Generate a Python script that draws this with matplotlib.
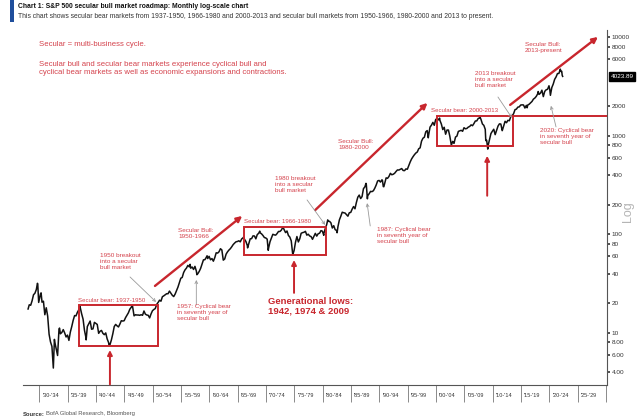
import matplotlib
matplotlib.use("Agg")
import matplotlib.pyplot as plt
import numpy as np
from matplotlib.patches import Rectangle
from matplotlib.ticker import NullLocator, FixedLocator, FixedFormatter, NullFormatter
from matplotlib.transforms import blended_transform_factory

plt.rcParams['font.family'] = ['Liberation Sans Narrow', 'Liberation Sans', 'DejaVu Sans']

# ---------------- data ----------------
start_year = 1928
# S&P 500 quarter-end levels, 1928Q1 .. 2022Q1
spx_quarterly = [
    19.3, 19.1, 21.2, 24.4,     # 1928
    25.3, 27.6, 31.3, 21.5,     # 1929
    25.1, 20.5, 21.0, 15.3,     # 1930
    18.0, 14.8, 9.7, 8.1,       # 1931
    7.3, 4.4, 8.1, 6.9,         # 1932
    5.9, 10.9, 9.8, 10.1,       # 1933
    10.8, 10.0, 9.1, 9.5,       # 1934
    8.4, 10.2, 11.6, 13.4,      # 1935
    15.0, 14.9, 16.2, 17.2,     # 1936
    18.1, 15.6, 13.8, 10.6,     # 1937
    9.0, 11.6, 12.4, 13.2,      # 1938
    10.9, 11.0, 12.8, 12.5,     # 1939
    12.2, 9.9, 10.4, 10.6,      # 1940
    9.9, 9.6, 10.0, 8.7,        # 1941
    8.0, 7.6, 8.5, 9.8,         # 1942
    11.6, 12.2, 11.8, 11.5,     # 1943
    12.3, 13.3, 13.2, 13.3,     # 1944
    14.3, 15.1, 16.0, 17.4,     # 1945
    18.2, 18.4, 14.9, 15.3,     # 1946
    15.2, 15.2, 15.1, 15.3,     # 1947
    15.1, 16.7, 15.5, 15.2,     # 1948
    15.1, 14.2, 15.6, 16.8,     # 1949
    17.3, 17.7, 19.5, 20.4,     # 1950
    21.5, 21.0, 23.3, 23.8,     # 1951
    24.4, 25.0, 25.0, 26.6,     # 1952
    25.3, 24.1, 23.4, 24.8,     # 1953
    26.9, 29.2, 32.3, 35.9,     # 1954
    36.6, 41.0, 43.7, 45.5,     # 1955
    48.5, 46.9, 45.4, 46.7,     # 1956
    44.1, 47.4, 42.4, 39.9,     # 1957
    42.1, 45.2, 50.1, 55.2,     # 1958
    55.4, 58.5, 56.9, 59.9,     # 1959
    55.3, 56.9, 53.5, 58.1,     # 1960
    65.1, 64.6, 66.7, 71.6,     # 1961
    69.6, 54.8, 56.3, 63.1,     # 1962
    66.6, 69.4, 71.7, 75.0,     # 1963
    78.9, 81.7, 84.2, 84.8,     # 1964
    86.2, 84.1, 90.0, 92.4,     # 1965
    89.2, 84.7, 77.0, 80.3,     # 1966
    90.2, 90.6, 96.7, 96.5,     # 1967
    90.2, 99.6, 102.7, 103.9,   # 1968
    101.5, 97.7, 93.1, 92.1,    # 1969
    89.6, 72.7, 84.3, 92.2,     # 1970
    100.3, 99.0, 98.3, 102.1,   # 1971
    107.2, 107.1, 110.6, 118.1, # 1972
    111.5, 104.3, 108.4, 97.6,  # 1973
    94.0, 86.0, 63.5, 68.6,     # 1974
    83.4, 95.2, 83.9, 90.2,     # 1975
    102.8, 104.3, 105.2, 107.5, # 1976
    98.4, 100.5, 96.5, 95.1,    # 1977
    89.2, 95.5, 102.5, 96.1,    # 1978
    101.6, 102.9, 109.3, 107.9, # 1979
    102.1, 114.2, 125.5, 135.8, # 1980
    136.0, 131.2, 116.2, 122.6, # 1981
    111.9, 109.6, 120.4, 140.6, # 1982
    153.0, 168.1, 166.1, 164.9, # 1983
    159.2, 153.2, 166.1, 167.2, # 1984
    180.7, 191.9, 182.1, 211.3, # 1985
    238.9, 250.8, 231.3, 242.2, # 1986
    291.7, 304.0, 321.8, 247.1, # 1987
    258.9, 273.5, 271.9, 277.7, # 1988
    294.9, 317.9, 349.2, 353.4, # 1989
    339.9, 358.0, 306.1, 330.2, # 1990
    375.2, 371.2, 387.9, 417.1, # 1991
    403.7, 408.1, 417.8, 435.7, # 1992
    451.7, 450.5, 458.9, 466.5, # 1993
    445.8, 444.3, 462.7, 459.3, # 1994
    500.7, 544.8, 584.4, 615.9, # 1995
    645.5, 670.6, 687.3, 740.7, # 1996
    757.1, 885.1, 947.3, 970.4, # 1997
    1101.8, 1133.8, 1017.0, 1229.2,  # 1998
    1286.4, 1372.7, 1282.7, 1469.3,  # 1999
    1498.6, 1454.6, 1436.5, 1320.3,  # 2000
    1160.3, 1224.4, 1040.9, 1148.1,  # 2001
    1147.4, 989.8, 815.3, 879.8,     # 2002
    848.2, 974.5, 996.0, 1111.9,     # 2003
    1126.2, 1140.8, 1114.6, 1211.9,  # 2004
    1180.6, 1191.3, 1228.8, 1248.3,  # 2005
    1294.8, 1270.2, 1335.9, 1418.3,  # 2006
    1420.9, 1503.4, 1526.8, 1468.4,  # 2007
    1322.7, 1280.0, 1166.4, 903.3,   # 2008
    797.9, 919.3, 1057.1, 1115.1,    # 2009
    1169.4, 1030.7, 1141.2, 1257.6,  # 2010
    1325.8, 1320.6, 1131.4, 1257.6,  # 2011
    1408.5, 1362.2, 1440.7, 1426.2,  # 2012
    1569.2, 1606.3, 1681.6, 1848.4,  # 2013
    1872.3, 1960.2, 1972.3, 2058.9,  # 2014
    2067.9, 2063.1, 1920.0, 2043.9,  # 2015
    2059.7, 2098.9, 2168.3, 2238.8,  # 2016
    2362.7, 2423.4, 2519.4, 2673.6,  # 2017
    2640.9, 2718.4, 2914.0, 2506.9,  # 2018
    2834.4, 2941.8, 2976.7, 3230.8,  # 2019
    2584.6, 3100.3, 3363.0, 3756.1,  # 2020
    3972.9, 4297.5, 4307.5, 4766.2,  # 2021
    4530.4,                          # 2022Q1
]
# intra-quarter peaks and troughs (decimal year, level)
extreme_years = [1928.0, 1929.65, 1929.87, 1930.3, 1932.65, 1933.55, 1937.15, 1938.25,
                 1942.3, 1946.4, 1956.6, 1957.8, 1959.6, 1966.05, 1966.75, 1968.9,
                 1970.4, 1973.0, 1974.75, 1980.2, 1980.9, 1982.55, 1987.65, 1987.9,
                 1990.55, 1990.8, 1998.65, 2000.65, 2002.75, 2003.2, 2007.8, 2008.8,
                 2009.15, 2011.7, 2016.1, 2018.05, 2020.1, 2022.05, 2022.29, 2022.37]
extreme_values = [17.5, 31.9, 20.4, 25.5, 8.6, 11.2, 18.6, 8.5,
                  7.5, 19.2, 49.7, 39.0, 60.7, 94.0, 73.0, 108.0,
                  69.0, 119.0, 63.0, 98.0, 140.5, 104.0, 330.0, 230.0,
                  356.0, 305.0, 957.0, 1517.0, 815.0, 841.0, 1549.0, 896.0,
                  735.0, 1131.0, 1932.0, 2824.0, 2954.0, 4516.0, 4132.0, 4023.89]
last_value = 4023.89

y_ticks = [10000, 8000, 6000, 2000, 1000, 800, 600, 400, 200, 100, 80, 60, 40, 20, 10, 8, 6, 4]
y_tick_labels = ['10000', '8000', '6000', '2000', '1000', '800', '600', '400', '200',
                 '100', '80', '60', '40', '20', '10', '8.00', '6.00', '4.00']
period_edges = list(range(1930, 2035, 5))
period_labels = ["'30-'34", "'35-'39", "'40-'44", "'45-'49", "'50-'54", "'55-'59", "'60-'64",
                 "'65-'69", "'70-'74", "'75-'79", "'80-'84", "'85-'89", "'90-'94", "'95-'99",
                 "'00-'04", "'05-'09", "'10-'14", "'15-'19", "'20-'24", "'25-'29"]

# ---------------- build series ----------------
q_years = np.array([start_year + i // 4 + ((i % 4) * 3 + 2.5) / 12 for i in range(len(spx_quarterly))])
t = np.concatenate([q_years, np.array(extreme_years)])
v = np.concatenate([np.array(spx_quarterly), np.array(extreme_values)])
order = np.argsort(t)
t, v = t[order], v[order]

RED = '#c8262d'
RED_TXT = '#d4424c'
GRAY = '#9a9a9a'

fig = plt.figure(figsize=(6.4, 4.18), dpi=100)
W, H = 640, 418
def fx(px): return px / W
def fy(py): return 1 - py / H

ax = fig.add_axes([22.7 / W, 1 - 385 / H, (607 - 22.7) / W, (385 - 30) / H])
ax.set_yscale('log')
ax.set_xlim(1927.05, 2030.2)
ax.set_ylim(2.96, 11900)

ax.plot(t, v, color='#111111', lw=1.1, zorder=3)

for s in ['top', 'left']:
    ax.spines[s].set_visible(False)
ax.spines['bottom'].set_color('#555555')
ax.spines['right'].set_color('#555555')
ax.spines['bottom'].set_linewidth(0.8)
ax.spines['right'].set_linewidth(0.8)

ax.yaxis.tick_right()
ax.yaxis.set_major_locator(FixedLocator(y_ticks))
ax.yaxis.set_major_formatter(FixedFormatter(y_tick_labels))
ax.yaxis.set_minor_locator(NullLocator())
ax.yaxis.set_minor_formatter(NullFormatter())
ax.tick_params(axis='y', which='major', direction='out', length=2.5, width=1.2,
               labelsize=4.6, pad=1, colors='#333333')

ax.xaxis.set_major_locator(FixedLocator(period_edges))
ax.xaxis.set_major_formatter(NullFormatter())
ax.xaxis.set_minor_locator(FixedLocator([e + 2.0 for e in period_edges[:-1]]))
ax.xaxis.set_minor_formatter(FixedFormatter(period_labels))
ax.tick_params(axis='x', which='major', direction='out', length=12, width=0.6, color='#777777')
ax.tick_params(axis='x', which='minor', length=0, labelsize=4.0, pad=6, labelcolor='#333333')

# ---------------- boxes ----------------
boxes = [(1937.0, 1950.9, 7.4, 19.0), (1966.1, 1980.6, 61.5, 120.0), (2000.2, 2013.6, 785.0, 1590.0)]
for x0, x1, y0, y1 in boxes:
    ax.add_patch(Rectangle((x0, y0), x1 - x0, y1 - y0, fill=False, ec=RED, lw=1.4, zorder=4))
ax.hlines(1590.0, 2013.6, 2030.2, color=RED, lw=1.4, zorder=4)

# ---------------- red trend arrows ----------------
trend_arrows = [((1950.4, 30.0), (1965.8, 154.0)),
                ((1978.7, 177.0), (1998.5, 2163.0)),
                ((2013.1, 2066.0), (2028.6, 10120.0))]
for tail, head in trend_arrows:
    ax.annotate('', xy=head, xytext=tail,
                arrowprops=dict(arrowstyle='-|>', color=RED, lw=1.7, mutation_scale=8,
                                shrinkA=0, shrinkB=0), zorder=5)

# generational low arrows
low_arrows = [((1942.45, 3.0), (1942.45, 6.7)),
              ((1974.95, 25.5), (1974.95, 55.0)),
              ((2009.05, 247.0), (2009.05, 628.0))]
for tail, head in low_arrows:
    ax.annotate('', xy=head, xytext=tail, annotation_clip=False,
                arrowprops=dict(arrowstyle='-|>', color=RED, lw=1.4, mutation_scale=7,
                                shrinkA=0, shrinkB=0), zorder=5)

# gray pointer arrows
pointers = [((1946.0, 37.0), (1950.6, 20.6)),
            ((1957.7, 19.2), (1957.7, 34.5)),
            ((1977.25, 224.0), (1980.45, 125.0)),
            ((1988.4, 122.0), (1987.85, 208.0)),
            ((2010.95, 2484.0), (2013.4, 1530.0)),
            ((2021.2, 1236.0), (2020.3, 2024.0))]
for tail, head in pointers:
    ax.annotate('', xy=head, xytext=tail,
                arrowprops=dict(arrowstyle='->', color=GRAY, lw=0.6, mutation_scale=5,
                                shrinkA=0, shrinkB=0), zorder=5)

# last value tag
ax.text(1.006, last_value, '4023.89', transform=blended_transform_factory(ax.transAxes, ax.transData),
        color='white', fontsize=4.6, va='center', ha='left', clip_on=False,
        bbox=dict(boxstyle='square,pad=0.3', fc='black', ec='black'))

# ---------------- texts ----------------
fs = 4.6
fig.text(fx(39), fy(45), 'Secular = multi-business cycle.', color=RED_TXT, fontsize=5.6, va='center')
fig.text(fx(39), fy(61), 'Secular bull and secular bear markets experience cyclical bull and\n'
         'cyclical bear markets as well as economic expansions and contractions.',
         color=RED_TXT, fontsize=5.6, va='top', linespacing=1.15)

notes = [
    (78, 300.7, 'Secular bear: 1937-1950'),
    (244, 221.7, 'Secular bear: 1966-1980'),
    (431, 111.0, 'Secular bear: 2000-2013'),
]
for px, py, s in notes:
    fig.text(fx(px), fy(py), s, color=RED_TXT, fontsize=4.4, va='center')

multi = [
    (100, 253, '1950 breakout\ninto a secular\nbull market'),
    (177, 304, '1957: Cyclical bear\nin seventh year of\nsecular bull'),
    (178, 228, 'Secular Bull:\n1950-1966'),
    (275, 176, '1980 breakout\ninto a secular\nbull market'),
    (338, 139, 'Secular Bull:\n1980-2000'),
    (377, 227, '1987: Cyclical bear\nin seventh year of\nsecular bull'),
    (475, 71, '2013 breakout\ninto a secular\nbull market'),
    (525, 42, 'Secular Bull:\n2013-present'),
    (540, 128, '2020: Cyclical bear\nin seventh year of\nsecular bull'),
]
for px, py, s in multi:
    fig.text(fx(px), fy(py), s, color=RED_TXT, fontsize=fs, va='top', linespacing=1.25)

fig.text(fx(268), fy(297), 'Generational lows:\n1942, 1974 & 2009', color=RED, fontsize=6.8,
         fontweight='bold', va='top', linespacing=1.05)

fig.text(fx(628), fy(212), 'Log', rotation=90, color='#b5b5b5', fontsize=9, ha='center', va='center')

# title block
fig.add_artist(Rectangle((fx(10), fy(22)), 4 / W, 22 / H, transform=fig.transFigure,
                         color='#1f4e9c', lw=0))
fig.text(fx(18), fy(6), 'Chart 1: S&P 500 secular bull market roadmap: Monthly log-scale chart',
         fontsize=4.9, fontweight='bold', va='center', color='#111111')
fig.text(fx(18), fy(17), 'This chart shows secular bear markets from 1937-1950, 1966-1980 and 2000-2013 '
         'and secular bull markets from 1950-1966, 1980-2000 and 2013 to present.',
         fontsize=4.9, va='center', color='#333333')

fig.text(fx(23), fy(414), 'Source:', fontsize=4.2, fontweight='bold', va='center', color='#333333')
fig.text(fx(46), fy(414), 'BofA Global Research, Bloomberg', fontsize=4.2, va='center', color='#555555')

fig.savefig('out.png', dpi=100)
